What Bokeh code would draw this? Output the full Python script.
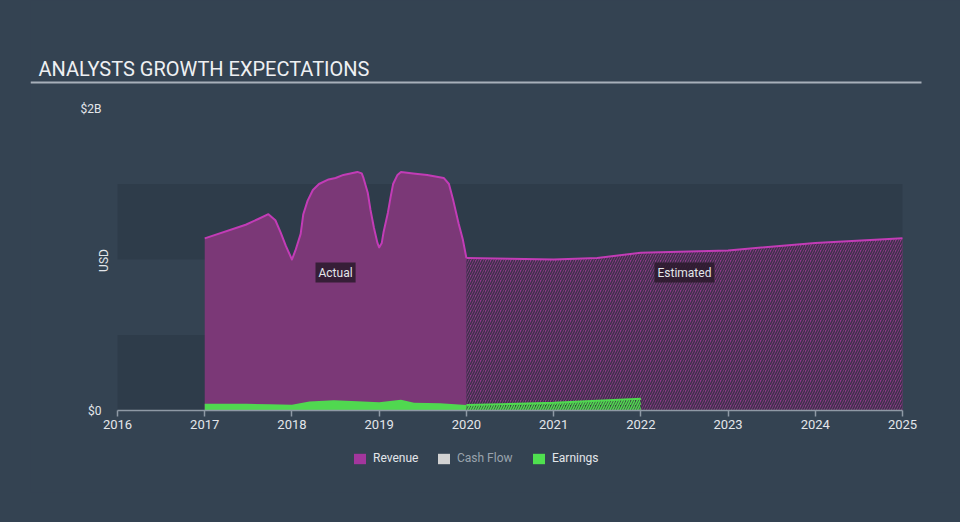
import math
from bokeh.plotting import figure
from bokeh.models import (Range1d, FixedTicker, BoxAnnotation, Label, Legend, LegendItem,
                          InlineStyleSheet)
from bokeh.embed import file_html
from bokeh.resources import INLINE

# ---------------- data (USD billions) ----------------
rev_actual_x = [2017.00, 2017.47, 2017.62, 2017.73, 2017.81, 2017.87, 2017.93, 2018.00,
                2018.04, 2018.10, 2018.13, 2018.18, 2018.24, 2018.31, 2018.42, 2018.50,
                2018.59, 2018.75, 2018.80, 2018.82, 2018.87, 2018.90, 2018.94, 2018.98,
                2019.00, 2019.03, 2019.05, 2019.10, 2019.13, 2019.16, 2019.21, 2019.25,
                2019.39, 2019.55, 2019.74, 2019.80, 2019.85, 2019.91, 2019.96, 2020.00]
rev_actual_y = [1.14, 1.23, 1.27, 1.30, 1.26, 1.18, 1.09, 1.00,
                1.06, 1.17, 1.30, 1.39, 1.46, 1.50, 1.53, 1.54,
                1.56, 1.58, 1.57, 1.54, 1.44, 1.33, 1.21, 1.11,
                1.08, 1.11, 1.18, 1.31, 1.41, 1.50, 1.56, 1.58,
                1.57, 1.56, 1.54, 1.50, 1.39, 1.24, 1.13, 1.01]
rev_est_x = [2020.0, 2020.5, 2021.0, 2021.5, 2022.0, 2023.0, 2024.0, 2025.0]
rev_est_y = [1.01, 1.005, 1.00, 1.01, 1.045, 1.06, 1.11, 1.14]

earn_actual_x = [2017.00, 2017.48, 2017.75, 2018.00, 2018.20, 2018.48, 2018.75, 2019.00,
                 2019.25, 2019.40, 2019.70, 2020.00]
earn_actual_y = [0.044, 0.044, 0.042, 0.038, 0.060, 0.068, 0.062, 0.055,
                 0.071, 0.051, 0.048, 0.036]
earn_est_x = [2020.0, 2021.0, 2022.0]
earn_est_y = [0.036, 0.051, 0.077]

year_ticks = [2016, 2017, 2018, 2019, 2020, 2021, 2022, 2023, 2024, 2025]
y_ticks = [0, 2]
y_tick_labels = {0: "$0", 2: "$2B"}
legend_labels = ["Revenue", "Cash Flow", "Earnings"]

# ---------------- style / layout ----------------
BG = "#344352"
BAND = "#2e3c4a"
TXT = "#e3e6ea"
FONT = "Roboto"
REV_FILL = "#7b3877"
REV_LINE = "#c23cb6"
GREEN = "#50d850"
AXIS = "#8e99a5"

FL, FB = 30, 492                 # frame left / bottom in canvas pixels
PX0, PX1 = 117, 902              # pixels of 2016 and 2025
KX = (PX1 - PX0) / 9.0           # pixels per year
Y0, KY = 410, 151.0              # pixel of $0, pixels per $1B

def dx(px):
    return 2016 + (px - PX0) / KX

def dy(py):
    return (Y0 - py) / KY

p = figure(width=960, height=522, output_backend="svg", toolbar_location=None, title=None,
           x_range=Range1d(dx(FL), dx(960)), y_range=Range1d(dy(FB), dy(0)),
           min_border_left=FL, min_border_right=0, min_border_top=0,
           min_border_bottom=522 - FB)
# page-level background (avoids seams around the frame)
p.styles = {"background-color": BG}
p.stylesheets = [InlineStyleSheet(css=":host { background-color: %s; }" % BG)]
p.border_fill_color = None
p.border_fill_alpha = 0
p.background_fill_color = BG
p.outline_line_color = None
p.xgrid.visible = False
p.ygrid.visible = False

for b0, b1 in [(0, 0.5), (1.0, 1.5)]:
    p.add_layout(BoxAnnotation(left=2016, right=2025, bottom=b0, top=b1, fill_color=BAND,
                               fill_alpha=1, line_color=None, level="underlay"))

# revenue
p.varea(x=rev_actual_x, y1=0, y2=rev_actual_y, fill_color=REV_FILL, fill_alpha=1)
p.line(x=rev_actual_x, y=rev_actual_y, line_color=REV_LINE, line_width=2, line_join="round")
p.varea(x=rev_est_x, y1=0, y2=rev_est_y, fill_color="#8e3a89", fill_alpha=1,
        hatch_pattern="/", hatch_color="#3a2f48", hatch_weight=1.6, hatch_scale=5, hatch_alpha=0.95)
p.line(x=rev_est_x, y=rev_est_y, line_color=REV_LINE, line_width=2)

# earnings
p.varea(x=earn_actual_x, y1=0, y2=earn_actual_y, fill_color=GREEN, fill_alpha=1)
p.varea(x=earn_est_x, y1=0, y2=earn_est_y, fill_color="#3a4640", fill_alpha=1,
        hatch_pattern="/", hatch_color=GREEN, hatch_weight=1.6, hatch_scale=5)
p.line(x=earn_est_x, y=earn_est_y, line_color=GREEN, line_width=2)

# axes
xa = p.xaxis[0]
xa.fixed_location = 0
xa.bounds = (2016, 2025)
xa.ticker = FixedTicker(ticks=year_ticks)
xa.axis_line_color = AXIS
xa.axis_line_width = 1.5
xa.major_tick_line_color = AXIS
xa.major_tick_line_width = 1.5
xa.major_tick_out = 6
xa.major_tick_in = 0
xa.minor_tick_line_color = None
xa.major_label_text_color = TXT
xa.major_label_text_font = FONT
xa.major_label_text_font_size = "13px"
xa.major_label_standoff = 3

ya = p.yaxis[0]
ya.fixed_location = dx(104)
ya.ticker = FixedTicker(ticks=y_ticks)
ya.major_label_overrides = y_tick_labels
ya.axis_line_color = None
ya.major_tick_line_color = None
ya.minor_tick_line_color = None
ya.major_tick_out = 0
ya.major_tick_in = 0
ya.major_label_standoff = 3
ya.major_label_text_color = TXT
ya.major_label_text_font = FONT
ya.major_label_text_font_size = "12px"

# title + underline
p.add_layout(Label(x=dx(38), y=dy(68.5), text="ANALYSTS GROWTH EXPECTATIONS", text_font=FONT,
                   text_font_size="20px", text_color="#eef0f2", text_baseline="middle",
                   text_align="left"))
p.add_layout(BoxAnnotation(left=dx(30), right=dx(921), top=dy(81), bottom=dy(83),
                           fill_color="#a7b0ba", fill_alpha=1, line_color=None))
p.add_layout(Label(x=dx(103), y=dy(260), text="USD", angle=math.pi / 2, text_font=FONT,
                   text_font_size="12px", text_color=TXT, text_align="center",
                   text_baseline="middle"))

for lx, txt in [(2018.5, "Actual"), (2022.5, "Estimated")]:
    p.add_layout(Label(x=lx, y=dy(272), text=txt, text_font=FONT, text_font_size="12px",
                       text_color=TXT, text_align="center", text_baseline="middle",
                       background_fill_color="#2a1a2c", background_fill_alpha=0.85, padding=3))

# legend (proxy swatches without positions)
nan = float("nan")
def legend_for(label, color, text_color, px):
    r = p.quad(left=[nan], right=[nan], top=[nan], bottom=[nan], fill_color=color,
               line_color=None)
    lg = Legend(items=[LegendItem(label=label, renderers=[r])], location=(px - FL, FB - 465),
                orientation="horizontal", padding=0, margin=0, spacing=0,
                glyph_width=15, glyph_height=13, label_height=13, label_standoff=6,
                label_text_font=FONT, label_text_font_size="12px", label_text_color=text_color,
                border_line_color=None, background_fill_alpha=0)
    p.add_layout(lg)

legend_for(legend_labels[0], "#a3369d", TXT, 352)
legend_for(legend_labels[1], "#d2d2d2", "#9aa3ad", 436)
legend_for(legend_labels[2], "#4fe04f", TXT, 531)

open("out.html", "w").write(file_html(p, INLINE))
